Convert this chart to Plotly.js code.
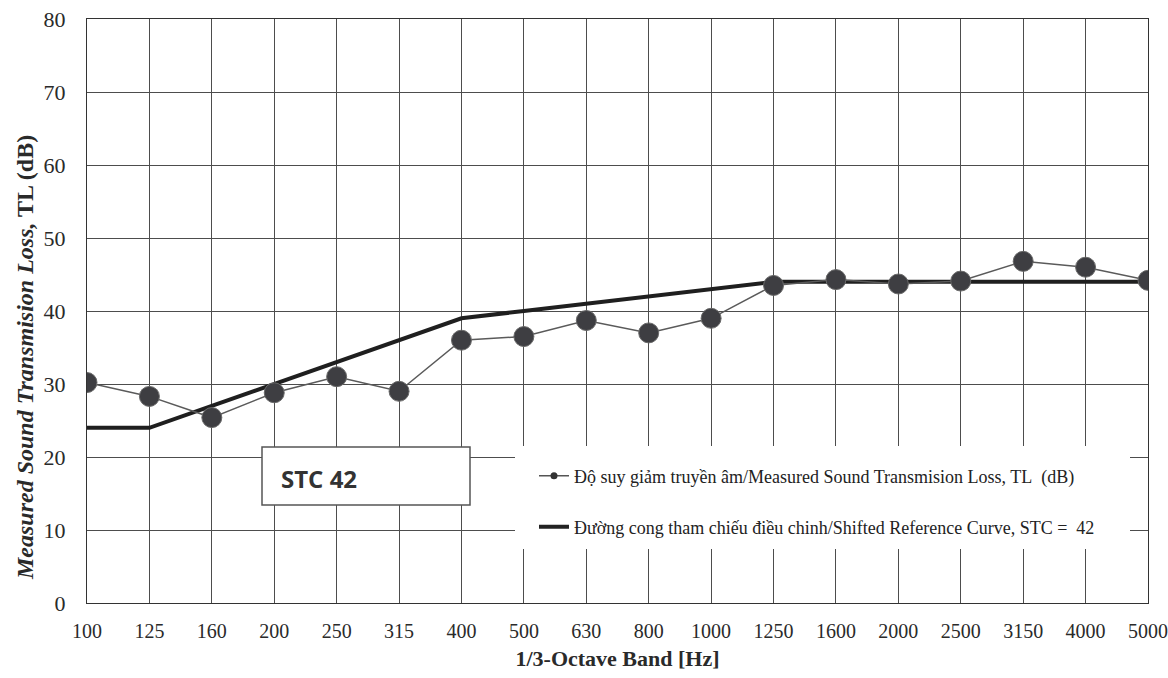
<!DOCTYPE html>
<html>
<head>
<meta charset="utf-8">
<script src="https://cdn.plot.ly/plotly-3.0.1.min.js"></script>
<style>html,body{margin:0;padding:0;background:#fff;}#chart{width:1168px;height:678px;}</style>
</head>
<body>
<div id="chart"></div>
<script>
const bands = ["100","125","160","200","250","315","400","500","630","800","1000","1250","1600","2000","2500","3150","4000","5000"];
const measuredTL = [30.2, 28.3, 25.4, 28.8, 31.0, 29.0, 36.0, 36.5, 38.7, 37.0, 39.0, 43.5, 44.3, 43.7, 44.1, 46.8, 46.0, 44.2];
const referenceCurve = [24, 24, 27, 30, 33, 36, 39, 40, 41, 42, 43, 44, 44, 44, 44, 44, 44, 44];
const yTicks = [0, 10, 20, 30, 40, 50, 60, 70, 80];
const measuredName = "Độ suy giảm truyền âm/Measured Sound Transmision Loss, TL\u00a0 (dB)";
const referenceName = "Đường cong tham chiếu điều chinh/Shifted Reference Curve, STC =\u00a0 42";
const stcLabel = "STC 42";
const yTitleItalic = "Measured Sound Transmision Loss,";
const yTitleUpright = "TL (dB)";
const xTitle = "1/3-Octave Band [Hz]";

const serif = "Liberation Serif, Times New Roman, serif";

const traces = [
  {
    x: bands, y: referenceCurve, type: "scatter", mode: "lines",
    line: {color: "#1f1f1f", width: 4},
    showlegend: false, hoverinfo: "skip"
  },
  {
    x: bands, y: measuredTL, type: "scatter", mode: "lines+markers",
    line: {color: "#5a5a5a", width: 1.5},
    marker: {size: 20, color: "#3e3e42", line: {color: "#6a6a6a", width: 1}},
    showlegend: false
  },
  {
    x: [null], y: [null], type: "scatter", mode: "lines+markers",
    name: measuredName,
    line: {color: "#555", width: 1.5},
    marker: {size: 7, color: "#333"},
    legend: "legend"
  },
  {
    x: [null], y: [null], type: "scatter", mode: "lines",
    name: referenceName,
    line: {color: "#222", width: 4},
    legend: "legend2"
  }
];

const layout = {
  width: 1168, height: 678,
  margin: {l: 87, r: 20, t: 19, b: 75},
  paper_bgcolor: "#ffffff",
  plot_bgcolor: "#ffffff",
  font: {family: serif, color: "#222"},
  xaxis: {
    type: "category",
    range: [0, bands.length - 1],
    showgrid: true, gridcolor: "#4d4d4d", gridwidth: 1,
    showline: true, linecolor: "#333", linewidth: 1, mirror: true,
    ticks: "outside", ticklen: 10, tickcolor: "rgba(0,0,0,0)",
    tickfont: {family: serif, size: 20, color: "#2a2a2a"},
    title: {text: xTitle, font: {family: serif, size: 22, weight: "bold", color: "#2a2a2a"}, standoff: 9},
    fixedrange: true
  },
  yaxis: {
    range: [0, 80],
    tickvals: yTicks,
    showgrid: true, gridcolor: "#4d4d4d", gridwidth: 1,
    zeroline: false,
    showline: true, linecolor: "#333", linewidth: 1, mirror: true,
    ticks: "outside", ticklen: 16, tickcolor: "rgba(0,0,0,0)",
    tickfont: {family: serif, size: 22, color: "#2a2a2a"},
    fixedrange: true
  },
  shapes: [
    {type: "rect", xref: "paper", yref: "paper",
     x0: (515 - 87) / 1061, x1: (1130 - 87) / 1061,
     y0: (603 - 549) / 584, y1: (603 - 446) / 584,
     fillcolor: "#ffffff", line: {width: 0}, layer: "above"},
    {type: "rect", xref: "paper", yref: "paper",
     x0: (262 - 87) / 1061, x1: (470 - 87) / 1061,
     y0: (603 - 505) / 584, y1: (603 - 447) / 584,
     fillcolor: "#ffffff", line: {width: 1.5, color: "#555"}, layer: "above"}
  ],
  annotations: [
    {xref: "paper", yref: "paper", x: (279 - 87) / 1061, y: (603 - 478) / 584,
     xanchor: "left", yanchor: "middle", showarrow: false,
     text: "<b>" + stcLabel + "</b>",
     font: {family: "Open Sans, Liberation Sans, sans-serif", size: 24, color: "#333"}},
    {xref: "paper", yref: "paper", x: (25 - 87) / 1061, y: (603 - 358) / 584,
     xanchor: "center", yanchor: "middle", showarrow: false, textangle: -90,
     text: "<b><i>" + yTitleItalic + "</i> " + yTitleUpright + "</b>",
     font: {family: serif, size: 24, color: "#2a2a2a"}}
  ],
  legend: {
    x: (534 - 87) / 1061, y: (603 - 476) / 584, xanchor: "left", yanchor: "middle",
    bgcolor: "rgba(0,0,0,0)", borderwidth: 0,
    font: {family: serif, size: 18, color: "#222"}
  },
  legend2: {
    x: (534 - 87) / 1061, y: (603 - 527) / 584, xanchor: "left", yanchor: "middle",
    bgcolor: "rgba(0,0,0,0)", borderwidth: 0,
    font: {family: serif, size: 18, color: "#222"}
  },
  showlegend: true
};

Plotly.newPlot("chart", traces, layout, {displayModeBar: false, staticPlot: true});
</script>
</body>
</html>
